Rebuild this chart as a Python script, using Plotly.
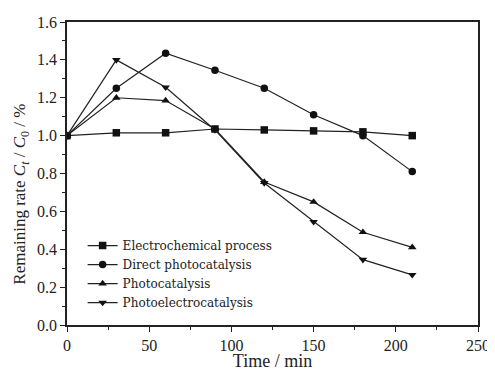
import plotly.graph_objects as go

time_min = [0, 30, 60, 90, 120, 150, 180, 210]
electrochemical = [1.00, 1.015, 1.015, 1.035, 1.03, 1.025, 1.02, 1.00]
direct_photo = [1.00, 1.25, 1.435, 1.345, 1.25, 1.11, 1.00, 0.81]
photocatalysis = [1.00, 1.20, 1.185, 1.035, 0.755, 0.65, 0.49, 0.41]
photoelectro = [1.00, 1.40, 1.255, 1.03, 0.75, 0.545, 0.345, 0.265]

names = ["Electrochemical process", "Direct photocatalysis", "Photocatalysis", "Photoelectrocatalysis"]
series = [electrochemical, direct_photo, photocatalysis, photoelectro]
symbols = ["square", "circle", "triangle-up", "triangle-down"]

x_title = "Time / min"
y_title = "Remaining rate <i>C</i><sub><i>t</i></sub> / <i>C</i><sub>0</sub> / %"

font_family = "Liberation Serif, Times New Roman, serif"
ink = "#222222"

fig = go.Figure()
for name, ys, sym in zip(names, series, symbols):
    fig.add_trace(go.Scatter(
        x=time_min, y=ys, name=name, mode="lines+markers",
        line=dict(color=ink, width=1.2),
        marker=dict(symbol=sym, size=7.5, color="#111111"),
    ))

axis_common = dict(
    showline=True, linecolor=ink, linewidth=1.5, mirror=True,
    ticks="outside", ticklen=5, tickwidth=1.2, tickcolor=ink,
    showgrid=False, zeroline=False, automargin=False,
    tickfont=dict(family=font_family, size=16, color=ink),
)

fig.update_xaxes(
    range=[0, 250], dtick=50,
    minor=dict(ticks="outside", ticklen=3, dtick=25, tickcolor=ink),
    title=dict(text=x_title, font=dict(family=font_family, size=18, color=ink), standoff=0),
    **axis_common,
)
fig.update_yaxes(
    range=[0, 1.6], dtick=0.2, tickformat=".1f",
    minor=dict(ticks="outside", ticklen=3, dtick=0.1, tickcolor=ink),
    **axis_common,
)

fig.add_annotation(
    text=y_title, textangle=-90, showarrow=False,
    xref="paper", yref="paper", x=0, y=0.43, xanchor="center", yanchor="middle",
    xshift=-46, font=dict(family=font_family, size=17, color=ink),
)

fig.update_layout(
    width=487, height=363,
    margin=dict(l=59, r=17, t=14, b=46),
    paper_bgcolor="white", plot_bgcolor="white",
    legend=dict(
        x=0.038, y=0.31, xanchor="left", yanchor="top",
        font=dict(family="DejaVu Serif, serif", size=12, color=ink),
        bgcolor="rgba(0,0,0,0)", tracegroupgap=0, itemwidth=30,
    ),
    font=dict(family=font_family),
)

fig.write_html("out.html")
